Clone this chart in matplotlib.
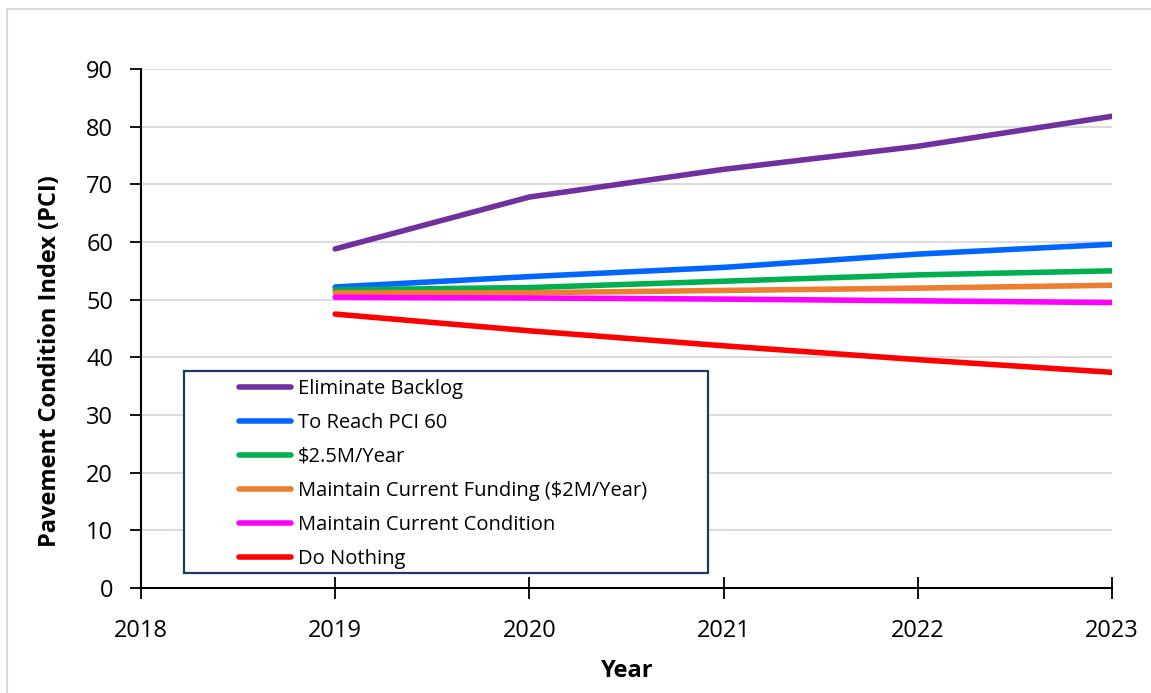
import matplotlib.pyplot as plt
import matplotlib.patches as mpatches

years = [2019, 2020, 2021, 2022, 2023]
series_names = ["Eliminate Backlog", "To Reach PCI 60", "$2.5M/Year",
                "Maintain Current Funding ($2M/Year)", "Maintain Current Condition", "Do Nothing"]
eliminate_backlog = [58.8, 67.8, 72.6, 76.6, 81.8]
reach_pci_60 = [52.2, 54.0, 55.6, 57.9, 59.6]
funding_2_5m = [51.7, 52.1, 53.2, 54.3, 55.0]
funding_2m = [51.2, 51.2, 51.6, 52.0, 52.5]
maintain_condition = [50.4, 50.3, 50.1, 49.8, 49.5]
do_nothing = [47.5, 44.6, 42.0, 39.6, 37.4]
colors = ["#7030A0", "#0066FF", "#00B050", "#ED7D31", "#FF00FF", "#FF0000"]
x_ticks = [2018, 2019, 2020, 2021, 2022, 2023]
y_ticks = list(range(0, 91, 10))

W, H = 1151, 693
fig = plt.figure(figsize=(W/100, H/100), dpi=100)
fig.patches.append(mpatches.Rectangle((7/W, -0.1), 1.2, (H-9)/H + 0.1, transform=fig.transFigure,
                                      fill=False, edgecolor="#D9D9D9", linewidth=1.5))
ax = fig.add_axes([141/W, 1 - 588/H, (1112-141)/W, (588-69)/H])
AW, AH = 1112-141, 588-69

all_series = [eliminate_backlog, reach_pci_60, funding_2_5m, funding_2m, maintain_condition, do_nothing]
for name, vals, c in zip(series_names, all_series, colors):
    ax.plot(years, vals, color=c, linewidth=4, label=name, solid_capstyle="round")

ax.set_xlim(2018, 2023)
ax.set_ylim(0, 90)
ax.set_xticks(x_ticks)
ax.set_yticks(y_ticks)
ax.tick_params(axis="both", labelsize=17, width=1.3, colors="black")
ax.tick_params(axis="x", direction="inout", length=16, pad=14)
ax.tick_params(axis="y", direction="out", length=8, pad=12)
for lab in ax.get_xticklabels() + ax.get_yticklabels():
    lab.set_family("Open Sans")
ax.grid(axis="y", color="#D9D9D9", linewidth=1.3)
ax.set_axisbelow(True)
for s in ["top", "right"]:
    ax.spines[s].set_visible(False)
ax.spines["left"].set_linewidth(1.5)
ax.spines["bottom"].set_linewidth(1.5)

ax.set_xlabel("Year", fontsize=17, fontweight="bold", family="Open Sans")
ax.xaxis.set_label_coords((627-141)/AW, (588-659)/AH)
ax.set_ylabel("Pavement Condition Index (PCI)", fontsize=17, fontweight="bold", family="Open Sans")
ax.yaxis.set_label_coords((62-141)/AW, (588-361)/AH)

# legend box
box = mpatches.Rectangle(((184-141)/AW, (588-573)/AH), (708-184)/AW, (573-371)/AH,
                         transform=ax.transAxes, fill=True, facecolor="white",
                         edgecolor="#1F3864", linewidth=1.6, zorder=4)
ax.add_patch(box)
leg = ax.legend(loc="upper left", bbox_to_anchor=((223-141)/AW, (588-363)/AH),
                frameon=False, handlelength=2.6, handletextpad=0.3,
                borderpad=0.3, labelspacing=0.69, prop={"family": "Open Sans", "size": 14.5})
leg.set_zorder(5)

fig.savefig("out.png", dpi=100)
